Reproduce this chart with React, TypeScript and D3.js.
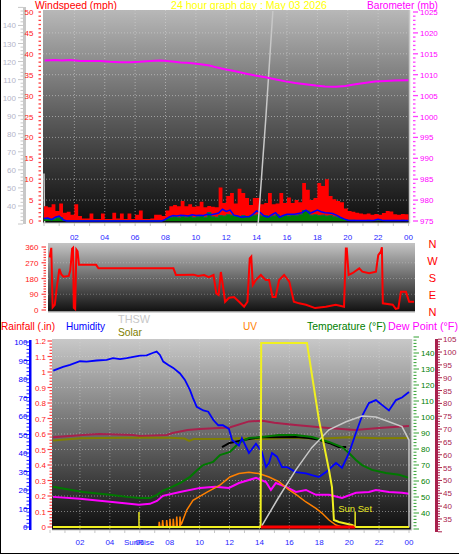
import React from "react";
import * as d3 from "d3";

// ---------- DATA ----------
const hourTicks = [2, 4, 6, 8, 10, 12, 14, 16, 18, 20, 22, 24];
const hourLabels = ["02", "04", "06", "08", "10", "12", "14", "16", "18", "20", "22", "00"];

// wind (mph), one value every 15 minutes from 00:00
const windGust = [
  3.5, 3.3, 4.0, 2.4, 4.2, 2.0, 2.2, 1.5, 4.0, 1.2,
  0.6, 0.6, 1.8, 0.5, 0.5, 1.8, 0.5, 0.5, 2.0, 0.6,
  1.8, 0.5, 1.8, 0.5, 1.5, 2.5, 0.5, 0.5, 0.6, 1.5,
  1.5, 1.2, 2.5, 3.5, 3.8, 3.5, 4.8, 3.5, 4.0, 3.4,
  3.5, 4.6, 3.3, 3.6, 3.4, 3.3, 8.0, 4.3, 6.0, 6.7,
  4.2, 7.7, 6.7, 5.5, 3.8, 5.5, 5.5, 4.0, 4.3, 6.7,
  4.0, 4.2, 6.7, 4.3, 5.6, 4.3, 5.0, 4.5, 9.1, 7.5,
  5.0, 5.5, 9.1, 8.4, 10.0, 6.0, 5.2, 4.8, 4.5, 3.0,
  2.4, 2.2, 2.0, 1.8, 1.6, 1.8, 1.5, 1.7, 1.5, 1.9,
  2.4, 2.3, 1.6, 1.5, 1.7, 1.6, 1.3,
];
const windAvg = [
  0.5, 0.5, 0.4, 0.8, 0.8,
  0.1, 0.1, 0.1, 0.1, 0.1, 0.1, 0.1, 0.1, 0.1, 0.1, 0.1, 0.1, 0.1, 0.1,
  0.1, 0.1, 0.1, 0.1, 0.1, 0.1, 0.1, 0.1, 0.1, 0.1, 0.1, 0.1, 0.1,
  0.6, 0.9, 1.0, 0.8, 1.1, 0.9, 1.2, 0.8, 1.0, 1.2, 0.9, 2.0, 1.0, 0.9,
  1.3, 1.2, 1.5, 1.4, 1.2, 1.0, 1.3, 1.1, 1.2, 1.4, 1.5, 1.2, 1.3, 1.0,
  1.2, 1.5, 1.0, 1.3, 1.2, 1.4, 1.3, 1.5, 2.5, 2.4, 1.4, 1.5, 1.3, 1.4,
  1.2, 1.3, 1.0, 0.9, 0.6,
  0.3, 0.2, 0.2, 0.1, 0.1, 0.1, 0.2, 0.1, 0.1, 0.2, 0.1, 0.1, 0.1, 0.1,
  0.1, 0.2, 0.1, 0.1,
];
const windLine = [
  0.6, 0.7, 0.3, 0.9, 1.2, 0.3,
  0, 0, 0, 0, 0, 0, 0, 0, 0, 0, 0, 0, 0, 0, 0, 0, 0, 0, 0, 0, 0, 0, 0, 0, 0, 0,
  0.4,
  1.0, 1.3, 1.2, 1.4, 1.3, 1.2, 1.5, 1.3, 1.4, 1.3, 1.6, 1.5, 1.7,
  1.9, 2.8, 2.3, 2.6, 1.4, 1.2, 0.9, 1.0, 1.0, 1.6, 2.4, 2.0, 1.2, 0.9,
  1.5, 2.0, 0.9, 1.3, 1.6, 1.6, 1.6, 1.8, 2.0, 2.6, 1.8, 2.2, 2.6, 2.2,
  2.0, 1.9, 1.8, 1.4, 0.9, 0.5,
  0.2, 0.1, 0.1, 0.1, 0.1, 0.1, 0.1, 0.2, 0.4, 0.2, 0.1, 0.1, 0.1, 0.1,
  0.1, 0.1, 0.1,
];

// barometer (mb): [hour, value]
const barometer: [number, number][] = [
  [0.05, 1013.4], [0.7, 1013.5], [1.2, 1013.4], [1.7, 1013.5], [2.4, 1013.3],
  [3.0, 1013.3], [3.7, 1013.3], [4.35, 1013.1], [5.0, 1013.0], [5.7, 1013.0],
  [6.3, 1013.1], [7.0, 1013.3], [7.65, 1013.4], [8.1, 1013.3], [8.6, 1013.1],
  [9.0, 1012.9], [9.6, 1012.8], [10.3, 1012.5], [10.9, 1012.2], [11.4, 1011.7],
  [11.9, 1011.3], [12.6, 1010.8], [13.25, 1010.3], [13.9, 1009.8], [14.57, 1009.4],
  [15.2, 1008.9], [15.9, 1008.4], [16.55, 1008.0], [17.2, 1007.7], [17.9, 1007.4],
  [18.5, 1007.2], [19.2, 1007.1], [19.85, 1007.3], [20.5, 1007.7], [21.2, 1008.1],
  [21.8, 1008.4], [22.5, 1008.5], [23.1, 1008.6], [24.0, 1008.7],
];

// light grey trace of the top panel (left grey scale)
const greyStart: [number, number][] = [[0.0, 58], [0.04, 30]];
const greyRise: [number, number][] = [[14.1, 30], [14.6, 88], [15.07, 148]];

// wind direction (degrees): [hour, value]
const windDir: [number, number][] = [
  [0.05, 300], [0.15, 355], [0.24, 15], [0.38, 30], [0.5, 120], [0.68, 235],
  [0.8, 205], [0.95, 190], [1.3, 195], [1.4, 225], [1.52, 350], [1.58, 355],
  [1.63, 12], [1.72, 5], [1.8, 345], [1.88, 335], [1.97, 258], [3.1, 258],
  [3.25, 238], [8.18, 238], [8.35, 200], [9.5, 202], [9.8, 195], [10.2, 200],
  [10.5, 188], [10.82, 200], [11.0, 95], [11.15, 86], [11.3, 217], [11.43, 143],
  [11.58, 47], [11.84, 70], [12.17, 74], [12.5, 47], [12.83, 19], [13.05, 47],
  [13.2, 295], [13.3, 305], [13.4, 143], [13.6, 171], [13.93, 200], [14.25, 171],
  [14.47, 171], [14.7, 74], [14.9, 74], [15.13, 171], [15.46, 200], [15.8, 162],
  [16.1, 47], [16.45, 38], [16.9, 30], [17.5, 11], [18.2, 19], [18.86, 30],
  [19.4, 19], [19.52, 352], [19.58, 352], [19.7, 200], [19.95, 210], [20.4, 238],
  [20.6, 219], [21.05, 210], [21.5, 219], [21.65, 314], [21.82, 333], [21.89, 359],
  [21.95, 38], [22.6, 30], [22.8, 6], [22.97, 10], [23.14, 105], [23.47, 105],
  [23.68, 47], [24.0, 47],
];
const compass = ["N", "W", "S", "E", "N"];

// humidity (%)
const humidity: [number, number][] = [
  [0.22, 84.5], [0.87, 86.6], [1.34, 87.6], [2.0, 89.6], [2.45, 89.4], [3.12, 90],
  [3.79, 90.3], [4.21, 91.3], [4.68, 90.8], [5.13, 91.3], [5.57, 92], [6.02, 92.6],
  [6.46, 92.8], [6.9, 94.2], [7.13, 94.8], [7.35, 93], [7.57, 89.4], [7.91, 87.6],
  [8.24, 86], [8.69, 83], [9.02, 79.5], [9.36, 74], [9.56, 69.7], [9.81, 65],
  [10.25, 63], [10.58, 62.3], [10.92, 57.8], [11.25, 55], [11.56, 55], [11.96, 53],
  [12.17, 47], [12.63, 44], [12.83, 48], [13.3, 40], [13.77, 45], [14.17, 40.5],
  [14.44, 32.4], [14.64, 34.6], [14.84, 40], [15.17, 38], [15.51, 32.4], [15.84, 32.4],
  [16.44, 29.7], [17.11, 29], [17.51, 28], [17.98, 27], [18.45, 29.7], [19.12, 34.6],
  [19.52, 32], [19.99, 40], [20.45, 50.8], [20.86, 60], [21.32, 67], [21.79, 68.6],
  [22.19, 66], [22.66, 63], [23.13, 68.6], [23.53, 70], [24.0, 73],
];

// temperatures (°F) on the right-hand scale
const maroonTemp: [number, number][] = [
  [0.2, 66.8], [2.2, 67.7], [3.3, 68.1], [5.54, 67.7], [6.0, 67.3], [7.8, 67.7],
  [8.2, 68.5], [9.2, 69.6], [10.0, 70.0], [12.0, 70.6], [13.3, 73.0], [14.2, 73.2],
  [15.0, 72.5], [16.4, 71.6], [18.6, 70.4], [20.4, 69.6], [22.0, 70.4], [24.0, 71.2],
];
const oliveTemp: [number, number][] = [
  [0.2, 65.6], [1.0, 65.9], [2.0, 66.4], [5.0, 66.6], [8.0, 66.6], [9.0, 66.3],
  [9.3, 65.4], [9.6, 66.1], [12.0, 66.2], [13.0, 66.5], [14.0, 66.0], [16.0, 66.6],
  [18.0, 66.2], [20.0, 66.8], [22.0, 66.4], [24.0, 66.5],
];
const blackTemp: [number, number][] = [
  [11.5, 63.0], [12.0, 64.6], [13.3, 66.1], [14.2, 66.9], [15.3, 66.8], [16.4, 66.9],
  [17.3, 66.5], [18.0, 65.8], [18.65, 64.6], [19.3, 63.0], [19.8, 63.0],
];
const temperature: [number, number][] = [
  [0.2, 47.5], [2.2, 45.5], [4.0, 44.4], [5.15, 43.6], [6.0, 43.2], [6.68, 43.2],
  [7.15, 44.4], [7.55, 46.0], [8.02, 47.1], [8.69, 49.0], [9.36, 51.4], [9.83, 54.0],
  [10.23, 56.0], [10.9, 57.2], [11.36, 59.9], [12.03, 61.1], [12.63, 64.6], [13.3, 66.5],
  [14.17, 66.9], [15.3, 67.7], [16.44, 67.7], [17.51, 66.9], [18.65, 65.0], [19.52, 63.0],
  [19.99, 60.7], [20.45, 58.0], [20.86, 56.0], [21.52, 54.1], [22.46, 52.9], [23.33, 52.2],
  [24.0, 51.0],
];
const dewPoint: [number, number][] = [
  [0.2, 43.6], [2.0, 42.9], [4.0, 41.7], [5.15, 41.0], [5.95, 40.5], [6.68, 40.9],
  [7.15, 42.0], [7.55, 44.0], [8.69, 45.5], [10.03, 47.1], [11.03, 47.5], [11.96, 47.1],
  [12.63, 49.0], [13.3, 50.2], [13.77, 51.0], [14.44, 49.4], [14.77, 46.3], [15.1, 49.0],
  [15.78, 47.5], [16.44, 45.5], [17.11, 46.3], [17.78, 44.4], [18.65, 44.4], [19.52, 43.2],
  [20.45, 45.2], [21.32, 45.5], [21.79, 46.3], [22.66, 45.5], [23.53, 45.2], [24.0, 44.8],
];

// UV index
const uv: [number, number][] = [
  [0.2, 0], [7.28, 0], [7.3, 0.45], [7.35, 0], [7.5, 0], [7.53, 0.6], [7.58, 0],
  [7.78, 0], [7.8, 0.6], [7.85, 0], [8.0, 0], [8.02, 0.7], [8.07, 0], [8.22, 0],
  [8.24, 0.7], [8.29, 0], [8.45, 0], [8.47, 0.9], [8.52, 0], [8.67, 0], [8.69, 0.9],
  [8.74, 0.2], [8.8, 0.3], [9.14, 1.46], [9.56, 2.3], [10.5, 3.0], [11.36, 3.6],
  [12.03, 4.3], [12.63, 4.6], [13.3, 4.7], [13.97, 4.6], [14.64, 4.3], [15.3, 3.9],
  [15.98, 3.2], [16.44, 2.8], [17.11, 2.15], [17.78, 1.6], [18.18, 1.2], [18.65, 0.6],
  [19.12, 0.17], [19.52, 0], [24.0, 0],
];
// solar radiation (W/m²)
const solar: [number, number][] = [
  [0.2, 0], [14.08, 0], [14.12, 1000], [17.18, 1000], [17.98, 582], [18.65, 310],
  [18.85, 217], [18.98, 38], [19.32, 27], [20.19, 11], [20.45, 0], [24.0, 0],
];
// THSW index (°F)
const thsw: [number, number][] = [
  [14.1, 31], [15.3, 50], [16.44, 67], [17.51, 81], [18.65, 92], [19.79, 97],
  [20.86, 100.6], [21.79, 100], [22.66, 97], [23.53, 94], [24.0, 85.6], [24.0, 31],
];
// rainfall (in)
const rainfall: [number, number][] = [[14.1, 0], [20.4, 0]];
const sunRise = 5.95;
const sunSet = 20.4;

// ---------- LAYOUT ----------
const FONT = "'Liberation Sans', Arial, Helvetica, sans-serif";

const xTop = d3.scaleLinear().domain([0, 24]).range([44, 408.5]);
const yWind = d3.scaleLinear().domain([0, 50]).range([221, 12]);
const yBaro = d3.scaleLinear().domain([975, 1025]).range([221, 12]);
const yGrey = d3.scaleLinear().domain([30, 150]).range([224, 7.4]);

const xMid = d3.scaleLinear().domain([0, 24]).range([49, 414]);
const yDir = d3.scaleLinear().domain([0, 360]).range([310, 247]);

const xBot = d3.scaleLinear().domain([0, 24]).range([50, 409]);
const yHum = d3.scaleLinear().domain([0, 100]).range([527, 342]);
const yRain = d3.scaleLinear().domain([0, 1.2]).range([527, 341]);
const yTemp = d3.scaleLinear().domain([30, 150]).range([529, 337]);
const yDew = d3.scaleLinear().domain([30, 105]).range([531.8, 339.2]);
const ySolar = d3.scaleLinear().domain([0, 1000]).range([527, 343]);
const yUV = d3.scaleLinear().domain([0, 16]).range([527, 341]);

const pairLine = (xs: d3.ScaleLinear<number, number>, ys: d3.ScaleLinear<number, number>) =>
  d3.line<[number, number]>().x((d) => xs(d[0])).y((d) => ys(d[1]));

export default function App() {
  const gustArea = d3
    .area<number>()
    .x((_, i) => xTop(i * 0.25))
    .y0(yWind(0))
    .y1((d) => yWind(d))
    .curve(d3.curveStepAfter);
  const stepLine = d3
    .line<number>()
    .x((_, i) => xTop(i * 0.25))
    .y((d) => yWind(d))
    .curve(d3.curveStepAfter);
  const smoothLine = d3
    .line<number>()
    .x((_, i) => xTop(i * 0.25))
    .y((d) => yWind(d));

  const grid = "#d8d8d8";
  const gridDash = "1 2";

  const tickRange = (a: number, b: number, s: number) => d3.range(a, b + s / 2, s);

  return (
    <svg
      width={459}
      height={555}
      style={{ position: "absolute", left: 0, top: 0, background: "#ffffff" }}
      fontFamily={FONT}
    >
      <defs>
        <linearGradient id="gTop" x1="0" y1="0" x2="0" y2="1">
          <stop offset="0" stopColor="#b8b8b8" />
          <stop offset="0.5" stopColor="#5c5c5c" />
          <stop offset="1" stopColor="#0c0c0c" />
        </linearGradient>
        <linearGradient id="gMid" x1="0" y1="0" x2="0" y2="1">
          <stop offset="0" stopColor="#c4c4c4" />
          <stop offset="1" stopColor="#101010" />
        </linearGradient>
        <linearGradient id="gBot" x1="0" y1="0" x2="0" y2="1">
          <stop offset="0" stopColor="#c8c8c8" />
          <stop offset="0.5" stopColor="#6a6a6a" />
          <stop offset="1" stopColor="#0e0e0e" />
        </linearGradient>
        <clipPath id="cTop">
          <rect x={43} y={10} width={367} height={213} />
        </clipPath>
        <clipPath id="cMid">
          <rect x={48} y={243} width={367} height={69} />
        </clipPath>
        <clipPath id="cBot">
          <rect x={52} y={339} width={360} height={191} />
        </clipPath>
      </defs>

      {/* outer frame */}
      <line x1={0.5} y1={0} x2={0.5} y2={554} stroke="#000" />
      <line x1={0} y1={553.5} x2={459} y2={553.5} stroke="#000" />

      {/* ================= TOP PANEL ================= */}
      <text x={35} y={9} fontSize={11} fill="#ff0000" textLength={82} lengthAdjust="spacingAndGlyphs">
        Windspeed (mph)
      </text>
      <text x={171} y={9} fontSize={11} fill="#ffff00" textLength={156} lengthAdjust="spacingAndGlyphs">
        24 hour graph day : May 03 2026
      </text>
      <text x={367} y={9} fontSize={11} fill="#ff00ff" textLength={71} lengthAdjust="spacingAndGlyphs">
        Barometer (mb)
      </text>

      <rect x={43} y={10} width={367} height={213} fill="url(#gTop)" />
      <g stroke={grid} strokeDasharray={gridDash} strokeOpacity={0.55}>
        {hourTicks.slice(0, -1).map((h) => (
          <line key={"tv" + h} x1={xTop(h)} x2={xTop(h)} y1={10} y2={222} />
        ))}
        {tickRange(5, 45, 5).map((v) => (
          <line key={"th" + v} x1={43} x2={410} y1={yWind(v)} y2={yWind(v)} />
        ))}
      </g>
      <g clipPath="url(#cTop)">
        <path d={pairLine(xTop, yGrey)(greyStart) || ""} fill="none" stroke="#c8c8c8" strokeWidth={1.5} />
        <path d={gustArea(windGust) || ""} fill="#ff0000" />
        <path d={gustArea(windAvg) || ""} fill="#008000" />
        <path d={stepLine(windAvg) || ""} fill="none" stroke="#007050" strokeWidth={1} />
        <path d={smoothLine(windLine) || ""} fill="none" stroke="#0000ff" strokeWidth={1.5} />
        <path d={pairLine(xTop, yGrey)(greyRise) || ""} fill="none" stroke="#c8c8c8" strokeWidth={1.5} />
        <path d={pairLine(xTop, yBaro)(barometer) || ""} fill="none" stroke="#ff00ff" strokeWidth={2} />
      </g>
      <line x1={409.5} x2={409.5} y1={10} y2={223} stroke="#c8c8c8" strokeWidth={1.5} />
      <line x1={43} x2={410} y1={223} y2={223} stroke="#c8c8c8" strokeWidth={1} />
      {d3.range(0, 25, 1).map((h) => (
        <line key={"tt" + h} x1={xTop(h)} x2={xTop(h)} y1={223} y2={226} stroke="#c8c8c8" />
      ))}
      {hourTicks.map((h, i) => (
        <text key={"tl" + h} x={xTop(h)} y={239.5} fontSize={8} fill="#2828ff" textAnchor="middle">
          {hourLabels[i]}
        </text>
      ))}

      {/* left grey scale */}
      <rect x={23} y={7} width={3} height={217} fill="#c8c8c8" />
      {tickRange(30, 150, 2).map((v) => (
        <line key={"gk" + v} x1={v % 10 === 0 ? 18 : 20.5} x2={23} y1={yGrey(v)} y2={yGrey(v)} stroke="#c8c8c8" />
      ))}
      {tickRange(40, 140, 10).map((v) => (
        <text key={"gl" + v} x={16} y={yGrey(v) + 3} fontSize={8} fill="#b4b4c8" textAnchor="end">
          {v}
        </text>
      ))}
      {/* windspeed scale */}
      {tickRange(0, 50, 1).map((v) => (
        <line key={"wk" + v} x1={38.5} x2={41} y1={yWind(v)} y2={yWind(v)} stroke="#ff4040" strokeWidth={1.3} />
      ))}
      {tickRange(0, 50, 5).map((v) => (
        <text key={"wl" + v} x={33.5} y={yWind(v) + 3} fontSize={8} fill="#ff2020" textAnchor="end">
          {v}
        </text>
      ))}
      {/* barometer scale */}
      {tickRange(975, 1025, 1).map((v) => (
        <line key={"bk" + v} x1={413} x2={v % 5 === 0 ? 418 : 415.5} y1={yBaro(v)} y2={yBaro(v)} stroke="#ff40ff" strokeWidth={1.3} />
      ))}
      {tickRange(975, 1025, 5).map((v) => (
        <text key={"bl" + v} x={420} y={yBaro(v) + 3} fontSize={8} fill="#ff00ff">
          {v}
        </text>
      ))}

      {/* ================= MIDDLE PANEL ================= */}
      <rect x={48} y={243} width={367} height={69} fill="url(#gMid)" />
      <g stroke={grid} strokeDasharray={gridDash} strokeOpacity={0.35}>
        {[90, 180, 270].map((v) => (
          <line key={"dh" + v} x1={48} x2={415} y1={yDir(v)} y2={yDir(v)} />
        ))}
      </g>
      <g clipPath="url(#cMid)">
        <path d={pairLine(xMid, yDir)(windDir) || ""} fill="none" stroke="#ff0000" strokeWidth={2} />
      </g>
      <line x1={48} x2={415} y1={312} y2={312} stroke="#c8c8c8" strokeWidth={1.5} />
      {tickRange(0, 360, 15).map((v) => (
        <line key={"dk" + v} x1={v % 90 === 0 ? 41.5 : 43.5} x2={46} y1={yDir(v)} y2={yDir(v)} stroke="#ff4040" strokeWidth={1.2} />
      ))}
      {tickRange(0, 360, 90).map((v) => (
        <text key={"dl" + v} x={38.5} y={yDir(v) + 3} fontSize={8} fill="#ff2020" textAnchor="end">
          {v}
        </text>
      ))}
      {compass.map((c, i) => (
        <text key={"cp" + i} x={432.5} y={248 + i * 17} fontSize={11} fill="#ff0000" textAnchor="middle">
          {c}
        </text>
      ))}

      {/* ================= BOTTOM PANEL ================= */}
      <text x={1} y={330} fontSize={11} fill="#ff0000" textLength={54} lengthAdjust="spacingAndGlyphs">
        Rainfall (.in)
      </text>
      <text x={66} y={330} fontSize={11} fill="#0000ff" textLength={39} lengthAdjust="spacingAndGlyphs">
        Humidity
      </text>
      <text x={118} y={322.5} fontSize={11} fill="#c8c8c8" textLength={32} lengthAdjust="spacingAndGlyphs">
        THSW
      </text>
      <text x={118} y={335.5} fontSize={11} fill="#808000" textLength={24} lengthAdjust="spacingAndGlyphs">
        Solar
      </text>
      <text x={243} y={330} fontSize={11} fill="#ff8000" textLength={14} lengthAdjust="spacingAndGlyphs">
        UV
      </text>
      <text x={307} y={330} fontSize={11} fill="#008000" textLength={79} lengthAdjust="spacingAndGlyphs">
        Temperature (°F)
      </text>
      <text x={388} y={330} fontSize={11} fill="#ff00ff" textLength={70} lengthAdjust="spacingAndGlyphs">
        Dew Point (°F)
      </text>

      <rect x={52} y={339} width={360} height={191} fill="url(#gBot)" />
      <g stroke={grid} strokeDasharray={gridDash} strokeOpacity={0.5}>
        {hourTicks.slice(0, -1).map((h) => (
          <line key={"bv" + h} x1={xBot(h)} x2={xBot(h)} y1={339} y2={529} />
        ))}
        {tickRange(0.1, 1.1, 0.1).map((v) => (
          <line key={"bh" + v} x1={52} x2={411} y1={yRain(v)} y2={yRain(v)} />
        ))}
      </g>
      <g clipPath="url(#cBot)">
        <path d={pairLine(xBot, yDew)(maroonTemp) || ""} fill="none" stroke="#a8204c" strokeWidth={2} />
        <path d={pairLine(xBot, yDew)(oliveTemp) || ""} fill="none" stroke="#808000" strokeWidth={2} />
        <path d={pairLine(xBot, yDew)(blackTemp) || ""} fill="none" stroke="#000000" strokeWidth={2} />
        <path d={pairLine(xBot, yDew)(temperature) || ""} fill="none" stroke="#007800" strokeWidth={2} />
        <path d={pairLine(xBot, yDew)(dewPoint) || ""} fill="none" stroke="#ff00ff" strokeWidth={2} />
        <path d={pairLine(xBot, yUV)(uv) || ""} fill="none" stroke="#ff8000" strokeWidth={1.5} />
        <path d={pairLine(xBot, yHum)(humidity) || ""} fill="none" stroke="#0000ff" strokeWidth={1.8} />
        <path d={pairLine(xBot, yTemp)(thsw) || ""} fill="none" stroke="#c8c8c8" strokeWidth={1.5} />
        <path d={pairLine(xBot, ySolar)(solar) || ""} fill="none" stroke="#f0f020" strokeWidth={2} />
        <path d={pairLine(xBot, yRain)(rainfall) || ""} fill="none" stroke="#ff0000" strokeWidth={3} />
        {[sunRise, sunSet].map((h) => (
          <line key={"sun" + h} x1={xBot(h)} x2={xBot(h)} y1={512} y2={527} stroke="#e8e820" strokeWidth={1.5} />
        ))}
      </g>
      <text x={xBot(sunSet)} y={512} fontSize={9.5} fill="#e8e820" textAnchor="middle">
        Sun Set
      </text>
      <line x1={411.5} x2={411.5} y1={339} y2={530} stroke="#c8c8c8" strokeWidth={1.5} />
      <line x1={52} x2={412} y1={530} y2={530} stroke="#c8c8c8" strokeWidth={1} />
      {d3.range(0, 25, 1).map((h) => (
        <line key={"bt" + h} x1={xBot(h)} x2={xBot(h)} y1={530} y2={533} stroke="#c8c8c8" />
      ))}
      {hourTicks.map((h, i) => (
        <text key={"bl" + h} x={xBot(h)} y={545} fontSize={8} fill="#2828ff" textAnchor="middle">
          {hourLabels[i]}
        </text>
      ))}
      <text x={xBot(sunRise)} y={545} fontSize={8} fill="#2828ff" textAnchor="middle">
        SunRise
      </text>

      {/* humidity scale */}
      <rect x={29} y={340} width={2.5} height={190} fill="#0000ff" />
      {tickRange(0, 100, 2).map((v) => (
        <line key={"hk" + v} x1={v % 10 === 0 ? 24 : 26.5} x2={29} y1={yHum(v)} y2={yHum(v)} stroke="#2020ff" />
      ))}
      {tickRange(0, 100, 10).map((v) => (
        <text key={"hl" + v} x={27.5} y={yHum(v) + 3} fontSize={8} fill="#0000ff" textAnchor="end">
          {v}
        </text>
      ))}
      {/* rainfall scale */}
      {tickRange(0, 1.2, 0.02).map((v, i) => (
        <line key={"rk" + i} x1={i % 5 === 0 ? 47.5 : 49.5} x2={52} y1={yRain(v)} y2={yRain(v)} stroke="#ff4040" strokeWidth={1.2} />
      ))}
      {tickRange(0, 1.2, 0.1).map((v, i) => (
        <text key={"rl" + i} x={46} y={yRain(v) + 3} fontSize={8} fill="#ff2020" textAnchor="end">
          {d3.format("~g")(+v.toFixed(1))}
        </text>
      ))}
      {/* temperature scale */}
      {tickRange(30, 150, 2).map((v) => (
        <line key={"tk" + v} x1={413.5} x2={v % 10 === 0 ? 419 : 416.5} y1={yTemp(v)} y2={yTemp(v)} stroke="#30a030" />
      ))}
      {tickRange(40, 140, 10).map((v) => (
        <text key={"tl2" + v} x={421} y={yTemp(v) + 3} fontSize={8} fill="#008000">
          {v}
        </text>
      ))}
      {/* dew point scale */}
      <rect x={435} y={339} width={3} height={193} fill="#a8204c" />
      {tickRange(30, 105, 1).map((v) => (
        <line key={"ek" + v} x1={438} x2={v % 5 === 0 ? 442 : 440} y1={yDew(v)} y2={yDew(v)} stroke="#a8204c" />
      ))}
      {tickRange(35, 105, 5).map((v) => (
        <text key={"el" + v} x={443} y={yDew(v) + 3} fontSize={8} fill="#a8204c">
          {v}
        </text>
      ))}
    </svg>
  );
}
